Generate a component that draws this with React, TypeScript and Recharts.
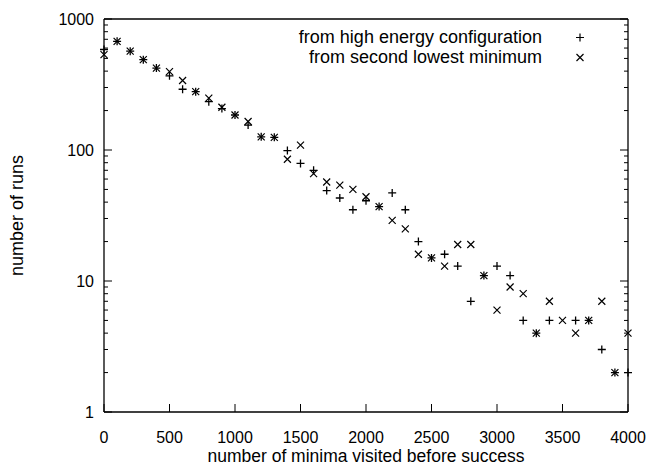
import React from "react";
import { ScatterChart, Scatter, XAxis, YAxis, Legend } from "recharts";

// number of minima visited before success (bins of 100)
const minima = [
  0, 100, 200, 300, 400, 500, 600, 700, 800, 900, 1000, 1100, 1200, 1300, 1400,
  1500, 1600, 1700, 1800, 1900, 2000, 2100, 2200, 2300, 2400, 2500, 2600, 2700,
  2800, 2900, 3000, 3100, 3200, 3300, 3400, 3500, 3600, 3700, 3800, 3900, 4000,
];
// runs started from high energy configuration (null = no runs in bin)
const highEnergy: (number | null)[] = [
  585, 675, 568, 489, 422, 368, 291, 279, 234, 207, 185, 155, 126, 125, 99, 79,
  70, 49, 43, 35, 41, 37, 47, 35, 20, 15, 16, 13, 7, 11, 13, 11, 5, 4, 5, null,
  5, 5, 3, 2, 2,
];
// runs started from second lowest minimum
const secondLowest: (number | null)[] = [
  535, 675, 568, 489, 422, 397, 339, 279, 249, 212, 185, 165, 126, 125, 85, 109,
  66, 57, 54, 50, 44, 37, 29, 25, 16, 15, 13, 19, 19, 11, 6, 9, 8, 4, 7, 5, 4,
  5, 7, 2, 4,
];

const xTicks = [0, 500, 1000, 1500, 2000, 2500, 3000, 3500, 4000];
const decades = [1, 10, 100, 1000];
const yTicks = [
  1, 2, 3, 4, 5, 6, 7, 8, 9, 10, 20, 30, 40, 50, 60, 70, 80, 90, 100, 200, 300,
  400, 500, 600, 700, 800, 900, 1000,
];

const toPoints = (vals: (number | null)[]) =>
  minima
    .map((m, i) => ({ x: m, y: vals[i] }))
    .filter((d) => d.y != null);

const highData = toPoints(highEnergy);
const secondData = toPoints(secondLowest);

const FONT = "'Liberation Sans', Arial, Helvetica, sans-serif";

const plusPath = (cx: number, cy: number) =>
  `M${cx - 4},${cy}h8M${cx},${cy - 4}v8`;
const crossPath = (cx: number, cy: number) =>
  `M${cx - 3.5},${cy - 3.5}l7,7M${cx + 3.5},${cy - 3.5}l-7,7`;

const PlusShape = (p: any) => (
  <path d={plusPath(p.cx, p.cy)} stroke="#000" strokeWidth={1.3} fill="none" />
);
const CrossShape = (p: any) => (
  <path d={crossPath(p.cx, p.cy)} stroke="#000" strokeWidth={1.2} fill="none" />
);

function YTick(props: any) {
  const { x, y, payload, side } = props;
  const v = payload.value;
  const major = decades.includes(v);
  const len = major ? 8 : 4;
  const dir = side === "left" ? 1 : -1;
  return (
    <g>
      <line x1={x} x2={x + dir * len} y1={y} y2={y} stroke="#000" strokeWidth={1} />
      {side === "left" && major && (
        <text
          x={x - 10}
          y={y}
          dy={6}
          textAnchor="end"
          fontSize={16}
          fontFamily={FONT}
          fill="#000"
        >
          {v}
        </text>
      )}
    </g>
  );
}

function XTick(props: any) {
  const { x, y, payload, side } = props;
  const dir = side === "bottom" ? -1 : 1;
  return (
    <g>
      <line x1={x} x2={x} y1={y} y2={y + dir * 8} stroke="#000" strokeWidth={1} />
      {side === "bottom" && (
        <text
          x={x}
          y={y}
          dy={31}
          textAnchor="middle"
          fontSize={16}
          fontFamily={FONT}
          fill="#000"
        >
          {payload.value}
        </text>
      )}
    </g>
  );
}

function LegendBox(props: any) {
  const items = props.payload || [];
  return (
    <div style={{ fontFamily: FONT, fontSize: 18, color: "#000" }}>
      {items.map((it: any, i: number) => (
        <div
          key={it.value}
          style={{ display: "flex", alignItems: "center", height: 19.5 }}
        >
          <span style={{ width: 262, textAlign: "right", whiteSpace: "nowrap" }}>
            {it.value}
          </span>
          <svg width={76} height={19}>
            <path
              d={i === 0 ? plusPath(38, 9.5) : crossPath(38, 9.5)}
              stroke="#000"
              strokeWidth={1.2}
              fill="none"
            />
          </svg>
        </div>
      ))}
    </div>
  );
}

export default function App() {
  return (
    <div
      style={{
        position: "absolute",
        left: 0,
        top: 0,
        width: 653,
        height: 470,
        background: "#fff",
      }}
    >
      <ScatterChart
        width={653}
        height={470}
        margin={{ top: 18, right: 24, bottom: 57, left: 103 }}
      >
        <XAxis
          xAxisId="bottom"
          dataKey="x"
          type="number"
          domain={[0, 4000]}
          ticks={xTicks}
          interval={0}
          height={1}
          tickSize={0}
          tickMargin={0}
          tickLine={false}
          axisLine={{ stroke: "#000", strokeWidth: 1.3 }}
          tick={(p: any) => <XTick {...p} side="bottom" />}
          label={{
            content: (p: any) => (
              <text
                x={p.viewBox.x + p.viewBox.width / 2}
                y={p.viewBox.y + 50}
                textAnchor="middle"
                fontSize={17.5}
                fontFamily={FONT}
                fill="#000"
              >
                number of minima visited before success
              </text>
            ),
          }}
        />
        <XAxis
          xAxisId="top"
          orientation="top"
          dataKey="x"
          type="number"
          domain={[0, 4000]}
          ticks={xTicks}
          interval={0}
          height={1}
          tickSize={0}
          tickMargin={0}
          tickLine={false}
          axisLine={{ stroke: "#000", strokeWidth: 1.3 }}
          tick={(p: any) => <XTick {...p} side="top" />}
        />
        <YAxis
          yAxisId="left"
          dataKey="y"
          type="number"
          scale="log"
          domain={[1, 1000]}
          allowDataOverflow
          ticks={yTicks}
          interval={0}
          width={1}
          tickSize={0}
          tickMargin={0}
          tickLine={false}
          axisLine={{ stroke: "#000", strokeWidth: 1.3 }}
          tick={(p: any) => <YTick {...p} side="left" />}
          label={{
            content: (p: any) => (
              <text
                x={18}
                y={p.viewBox.y + p.viewBox.height / 2}
                transform={`rotate(-90, 18, ${p.viewBox.y + p.viewBox.height / 2})`}
                textAnchor="middle"
                dominantBaseline="middle"
                fontSize={18}
                fontFamily={FONT}
                fill="#000"
              >
                number of runs
              </text>
            ),
          }}
        />
        <YAxis
          yAxisId="right"
          orientation="right"
          dataKey="y"
          type="number"
          scale="log"
          domain={[1, 1000]}
          allowDataOverflow
          ticks={yTicks}
          interval={0}
          width={1}
          tickSize={0}
          tickMargin={0}
          tickLine={false}
          axisLine={{ stroke: "#000", strokeWidth: 1.3 }}
          tick={(p: any) => <YTick {...p} side="right" />}
        />
        <Legend
          layout="vertical"
          align="center"
          verticalAlign="middle"
          wrapperStyle={{ position: "absolute", top: 28, left: 280, width: 340 }}
          content={(p: any) => <LegendBox {...p} />}
        />
        <Scatter
          name="from high energy configuration"
          data={highData}
          xAxisId="bottom"
          yAxisId="left"
          shape={PlusShape}
          legendType="plus"
          isAnimationActive={false}
        />
        <Scatter
          name="from second lowest minimum"
          data={secondData}
          xAxisId="bottom"
          yAxisId="left"
          shape={CrossShape}
          legendType="cross"
          isAnimationActive={false}
        />
      </ScatterChart>
    </div>
  );
}
